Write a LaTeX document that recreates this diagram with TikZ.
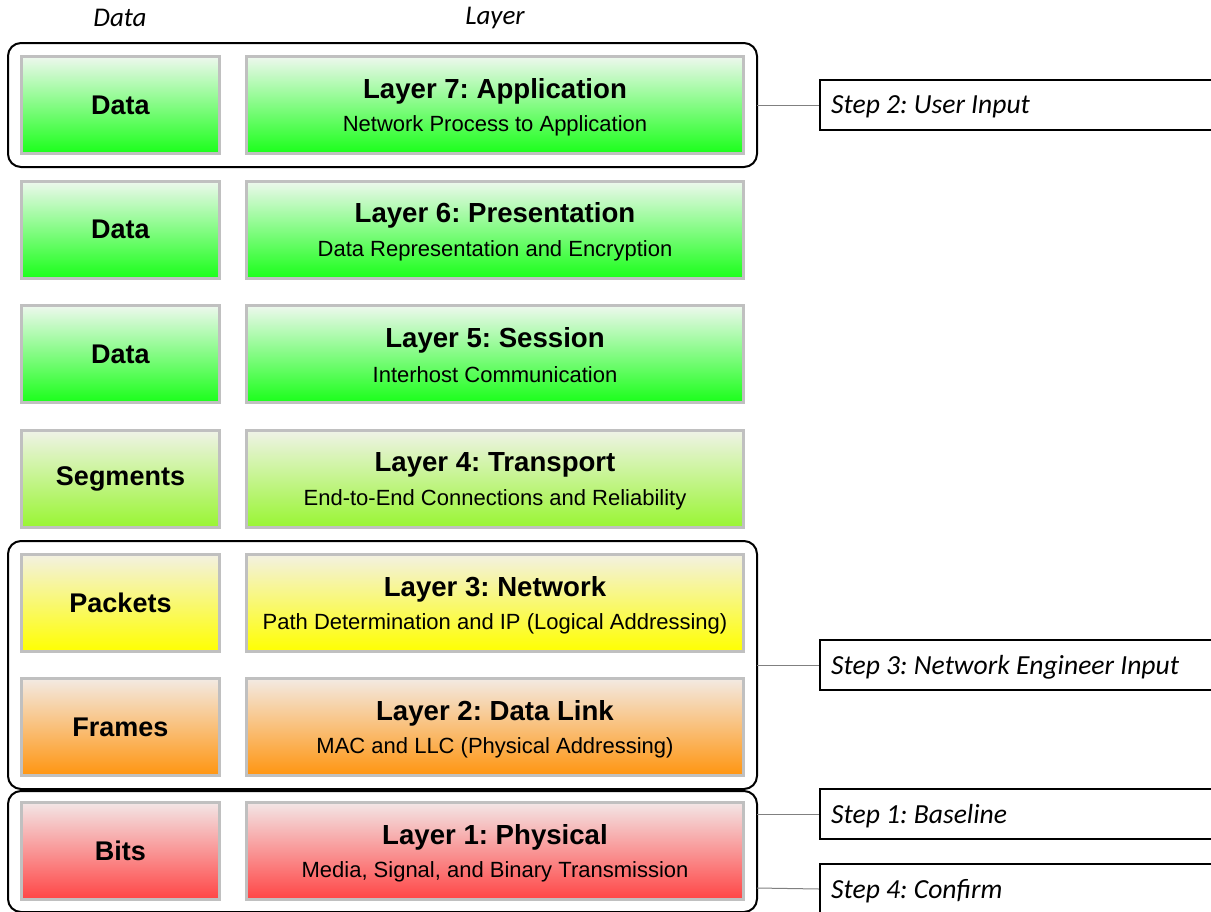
\documentclass[tikz,border=0pt]{standalone}
\usepackage{fontspec}
\setmainfont{Liberation Sans}
\newfontfamily\calfont{Carlito}
\definecolor{gTop}{HTML}{EEF8EE}\definecolor{gBot}{HTML}{1AFF1A}
\definecolor{lgTop}{HTML}{F0F3E8}\definecolor{lgBot}{HTML}{99F533}
\definecolor{yTop}{HTML}{F3F1E2}\definecolor{yBot}{HTML}{FFFF00}
\definecolor{oTop}{HTML}{F3EAE3}\definecolor{oBot}{HTML}{FF9510}
\definecolor{rTop}{HTML}{F3E6E6}\definecolor{rBot}{HTML}{FF4545}
\definecolor{boxgray}{HTML}{C0C0C0}
\definecolor{linegray}{HTML}{808080}
\frenchspacing
\tikzset{
  layerbox/.style={draw=boxgray, line width=3pt, inner sep=0pt, minimum height=97pt},
  leftbox/.style={layerbox, minimum width=198pt, font=\fontsize{27}{30}\selectfont\bfseries\frenchspacing},
  rightbox/.style={layerbox, minimum width=497pt},
  ltitle/.style={font=\fontsize{27.6}{30}\selectfont\bfseries\frenchspacing, inner sep=0pt},
  lsub/.style={font=\fontsize{22}{26}\selectfont\frenchspacing, inner sep=0pt},
  green/.style={top color=gTop, bottom color=gBot},
  lgreen/.style={top color=lgTop, bottom color=lgBot},
  yellowc/.style={top color=yTop, bottom color=yBot},
  orangec/.style={top color=oTop, bottom color=oBot},
  redc/.style={top color=rTop, bottom color=rBot},
  group/.style={draw=black, line width=2pt, rounded corners=13pt},
  stepbox/.style={draw=black, line width=2pt, fill=white, minimum height=50pt, minimum width=420pt, inner sep=0pt, anchor=west},
  steptext/.style={font=\calfont\itshape\fontsize{27.6}{30}\selectfont\frenchspacing, anchor=west, inner sep=0pt},
  head/.style={font=\calfont\itshape\fontsize{27}{30}\selectfont, inner sep=0pt},
  conn/.style={draw=linegray, line width=1pt}
}
\begin{document}
\begin{tikzpicture}[x=1pt,y=-1pt]
\useasboundingbox (0,0) rectangle (1211,911);
\clip (0,0) rectangle (1211,911);
\fill[white] (0,0) rectangle (1211,911);
% headers
\node[head] (hd) at (120,18) {Data};
\node[head] (hl) at (495,18) {Layer};
% groups
\draw[group] (8,43) rectangle (757,167);
\coordinate (g1e) at (757,105);
\draw[group] (8,541) rectangle (757,789);
\coordinate (g2e) at (757,665);
\draw[group] (8,791) rectangle (757,912);
\coordinate (g3a) at (757,814);
\coordinate (g3b) at (757,888);
% rows
\node[leftbox, green] (d7) at (120.5,105) {Data};
\node[rightbox, green] (l7) at (495,105) {};
\node[ltitle] (t7) at ([yshift=14pt]l7.center) {Layer 7: Application};
\node[lsub] (s7) at ([yshift=-21pt]l7.center) {Network Process to Application};

\node[leftbox, green] (d6) at (120.5,229.5) {Data};
\node[rightbox, green] (l6) at (495,229.5) {};
\node[ltitle] (t6) at ([yshift=14pt]l6.center) {Layer 6: Presentation};
\node[lsub] (s6) at ([yshift=-21pt]l6.center) {Data Representation and Encryption};

\node[leftbox, green] (d5) at (120.5,354) {Data};
\node[rightbox, green] (l5) at (495,354) {};
\node[ltitle] (t5) at ([yshift=14pt]l5.center) {Layer 5: Session};
\node[lsub] (s5) at ([yshift=-21pt]l5.center) {Interhost Communication};

\node[leftbox, lgreen] (d4) at (120.5,478.5) {Segments};
\node[rightbox, lgreen] (l4) at (495,478.5) {};
\node[ltitle] (t4) at ([yshift=14pt]l4.center) {Layer 4: Transport};
\node[lsub] (s4) at ([yshift=-21pt]l4.center) {End-to-End Connections and Reliability};

\node[leftbox, yellowc] (d3) at (120.5,603) {Packets};
\node[rightbox, yellowc] (l3) at (495,603) {};
\node[ltitle] (t3) at ([yshift=14pt]l3.center) {Layer 3: Network};
\node[lsub] (s3) at ([yshift=-21pt]l3.center) {Path Determination and IP (Logical Addressing)};

\node[leftbox, orangec] (d2) at (120.5,727) {Frames};
\node[rightbox, orangec] (l2) at (495,727) {};
\node[ltitle] (t2) at ([yshift=14pt]l2.center) {Layer 2: Data Link};
\node[lsub] (s2) at ([yshift=-21pt]l2.center) {MAC and LLC (Physical Addressing)};

\node[leftbox, redc] (d1) at (120.5,851) {Bits};
\node[rightbox, redc] (l1) at (495,851) {};
\node[ltitle] (t1) at ([yshift=14pt]l1.center) {Layer 1: Physical};
\node[lsub] (s1) at ([yshift=-21pt]l1.center) {Media, Signal, and Binary Transmission};
% steps
\node[stepbox] (st2) at (819,105) {};
\node[steptext] (st2t) at (831,107) {Step 2: User Input};
\node[stepbox] (st3) at (819,665) {};
\node[steptext] (st3t) at (831,667) {Step 3: Network Engineer Input};
\node[stepbox] (st1) at (819,814) {};
\node[steptext] (st1t) at (831,816) {Step 1: Baseline};
\node[stepbox] (st4) at (819,889) {};
\node[steptext] (st4t) at (831,891) {Step 4: Confirm};
% connectors
\draw[conn] (g1e) -- (st2.west);
\draw[conn] (g2e) -- (st3.west);
\draw[conn] (g3a) -- (st1.west);
\draw[conn] (g3b) -- (st4.west);
\end{tikzpicture}
\end{document}
